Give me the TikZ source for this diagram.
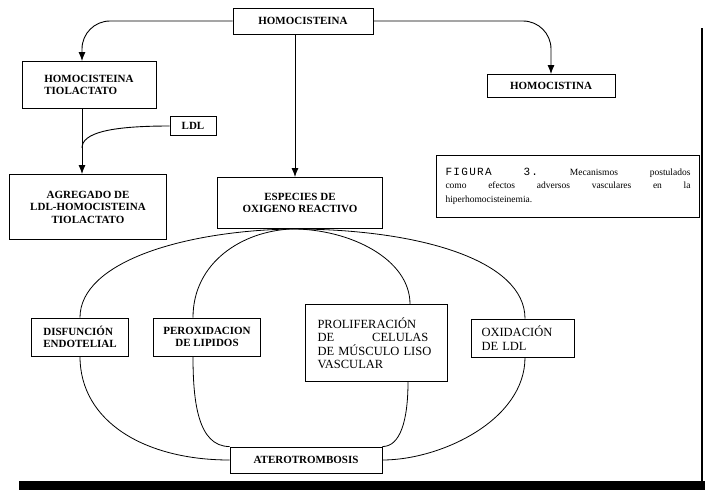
\documentclass[tikz,border=0pt]{standalone}
\usepackage{fontspec}
\setmainfont{Liberation Serif}
\newfontfamily\figmono[LetterSpace=12]{Liberation Mono}
\usetikzlibrary{arrows.meta}

\begin{document}
\begin{tikzpicture}[x=1pt,y=-1pt,
	caja/.style={draw, line width=0.9pt, inner sep=2pt, align=center,
		font=\fontsize{11}{12.5}\selectfont\bfseries},
	cajafina/.style={caja, font=\fontsize{12.5}{13.5}\selectfont},
	flecha/.style={line width=0.9pt, -{Latex[length=9pt,width=7pt]}},
	lazo/.style={line width=0.8pt}]
	\useasboundingbox (0,0) rectangle (705,490);

	% parte de arriba
	\node[caja, minimum width=140pt, minimum height=26pt] (homo) at (303,21) {HOMOCISTEINA};
	\node[caja, align=left, minimum width=134pt, minimum height=47pt] (tiol) at (89,85) {HOMOCISTEINA\\TIOLACTATO};
	\node[caja, minimum width=46pt, minimum height=19pt] (ldl) at (193,126) {LDL};
	\node[caja, minimum width=157pt, minimum height=65pt] (agreg) at (88,207) {AGREGADO DE\\LDL-HOMOCISTEINA\\TIOLACTATO};
	\node[caja, minimum width=165pt, minimum height=51pt] (esp) at (300,203) {ESPECIES DE\\OXIGENO REACTIVO};
	\node[caja, minimum width=128pt, minimum height=23pt] (cistina) at (551,86) {HOMOCISTINA};
	\node[draw, line width=0.9pt, inner xsep=9pt, inner ysep=5pt, text width=245pt, minimum height=62pt,
		font=\fontsize{9.5}{13.5}\selectfont] (figura) at (568,186)
		{{\figmono\fontsize{11}{13}\selectfont FIGURA}\hfill{\figmono\fontsize{11}{13}\selectfont 3.}\hfill Mecanismos\hfill postulados\\
		como\hfill efectos\hfill adversos\hfill vasculares\hfill en\hfill la\\
		hiperhomocisteinemia.};

	\draw[flecha, rounded corners=28pt] (homo.west) -| ([xshift=-7]tiol.north);
	\draw[flecha, rounded corners=28pt] (homo.east) -| (cistina.north);
	\draw[flecha] ([xshift=-8]homo.south) -- ([xshift=-8]homo.south |- esp.north);
	\draw[flecha] ([xshift=-7]tiol.south) -- ([xshift=-7]tiol.south |- agreg.north);
	\coordinate (union) at ([xshift=-7]tiol.south |- 0,148);
	\draw[lazo, line width=0.9pt] (ldl.west) .. controls +(-60,0) and +(0,-15) .. (union);

	% parte de abajo
	\node[caja, align=left, minimum width=97pt, minimum height=38pt] (disf) at (80,337) {DISFUNCIÓN\\ENDOTELIAL};
	\node[caja, minimum width=107pt, minimum height=38pt] (perox) at (207,337) {PEROXIDACION\\DE LIPIDOS};
	\node[cajafina, align=left, text width=117pt, inner xsep=12.5pt, minimum height=77pt] (prolif) at (376,343)
		{PROLIFERACIÓN\\DE\hspace{38pt}CELULAS\\DE MÚSCULO LISO\\VASCULAR\\[6pt]};
	\node[cajafina, align=left, text width=83pt, inner xsep=10pt, minimum height=38pt] (oxid) at (523,338) {OXIDACIÓN\\DE LDL};
	\node[caja, minimum width=152pt, minimum height=26pt] (atero) at (306,460) {ATEROTROMBOSIS};

	\coordinate (base) at ([xshift=-8]esp.south);
	\draw[lazo] (base) .. controls +(-110,2) and +(0,-55) .. (disf.north);
	\draw[lazo] (disf.south) .. controls +(0,65) and +(-85,0) .. (atero.west);
	\draw[lazo] (base) .. controls +(-50,2) and +(0,-55) .. ([xshift=-14]perox.north);
	\draw[lazo] ([xshift=-14]perox.south) .. controls +(0,44) and +(-32,0) .. (atero.north west);
	\draw[lazo] (base) .. controls +(58,0) and +(0,-45) .. ([xshift=34]prolif.north);
	\draw[lazo] ([xshift=32]prolif.south) .. controls +(0,38) and +(18,0) .. (atero.north east);
	\draw[lazo] (base) .. controls +(128,0) and +(0,-58) .. ([xshift=2]oxid.north);
	\draw[lazo] ([xshift=2]oxid.south) .. controls +(0,63) and +(58,0) .. (atero.east);

	% marco
	\draw[line width=1.2pt] (702,28) -- (702,484);
	\fill (19,481) rectangle (705,490);
\end{tikzpicture}
\end{document}
